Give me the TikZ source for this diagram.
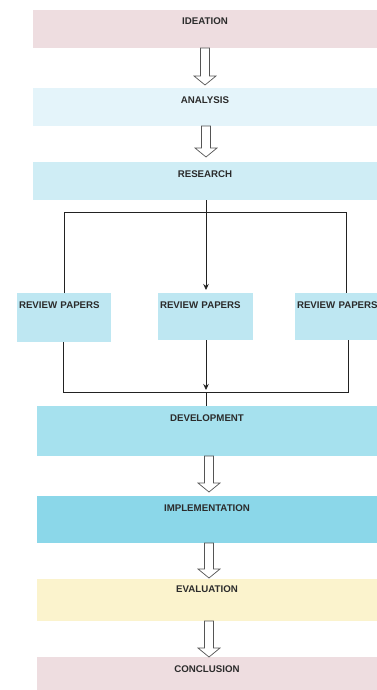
\documentclass[tikz,border=0pt]{standalone}
\usepackage{fontspec}
\setmainfont{Liberation Sans}
\usetikzlibrary{calc,arrows.meta}
\definecolor{cpink}{HTML}{EEDDE0}
\definecolor{canal}{HTML}{E4F4FA}
\definecolor{cres}{HTML}{CFEDF5}
\definecolor{crev}{HTML}{BEE7F2}
\definecolor{cdev}{HTML}{A6E1EE}
\definecolor{cimp}{HTML}{8BD7E9}
\definecolor{ceval}{HTML}{FBF3CD}
\definecolor{txt}{HTML}{2B2B2B}
\definecolor{arrowc}{HTML}{555555}
\definecolor{linec}{HTML}{222222}
\begin{document}
\begin{tikzpicture}[x=1pt,y=-1pt,
  box/.style={rectangle, draw=none, inner sep=0pt, outer sep=0pt, anchor=north west,
    text height=15pt, text=txt, font=\bfseries\fontsize{9.7}{11}\selectfont},
  revbox/.style={box, fill=crev, align=left, inner xsep=2pt},
  blockarrow/.style={draw=arrowc, fill=white, line width=0.7pt, line join=miter,
    to path={let \p1=(\tikztostart), \p2=(\tikztotarget) in
      (\x1-4.5pt,\y1) -- (\x1+4.5pt,\y1) -- (\x1+4.5pt,\y2+9pt) -- (\x1+11pt,\y2+9pt)
      -- (\x1,\y2) -- (\x1-11pt,\y2+9pt) -- (\x1-4.5pt,\y2+9pt) -- cycle}},
  conn/.style={draw=linec, line width=0.8pt},
  arr/.style={conn, -{Stealth[length=6pt,width=5.5pt]}}]
\useasboundingbox (0,0) rectangle (377,690);
\clip (0,0) rectangle (377,690);
\fill[white] (0,0) rectangle (377,690);

\node[box, fill=cpink, minimum width=344pt, text depth=23pt] (ideation) at (33,10) {IDEATION};
\node[box, fill=canal, minimum width=344pt, text depth=23pt] (analysis) at (33,88) {ANALYSIS};
\node[box, fill=cres, minimum width=344pt, text depth=23pt] (research) at (33,162) {RESEARCH};

\node[revbox, text width=90pt, text depth=34pt] (rev1) at (17,293) {REVIEW PAPERS};
\node[revbox, text width=91pt, text depth=32pt] (rev2) at (158,293) {REVIEW PAPERS};
\node[revbox, text width=98pt, text depth=32pt] (rev3) at (295,293) {REVIEW PAPERS};

\node[box, fill=cdev, minimum width=340pt, text depth=35pt] (development) at (37,406) {DEVELOPMENT};
\node[box, fill=cimp, minimum width=340pt, text depth=32pt] (implementation) at (37,496) {IMPLEMENTATION};
\node[box, fill=ceval, minimum width=340pt, text height=13.5pt, text depth=28.5pt] (evaluation) at (37,579) {EVALUATION};
\node[box, fill=cpink, minimum width=340pt, text depth=18pt] (conclusion) at (37,657) {CONCLUSION};

% block arrows
\draw[blockarrow] (ideation.south) to ([yshift=3pt]analysis.north);
\draw[blockarrow] ([xshift=1pt]analysis.south) to ([xshift=1pt,yshift=5pt]research.north);
\draw[blockarrow] ([xshift=2pt]development.south) to ([xshift=2pt,yshift=4pt]implementation.north);
\draw[blockarrow] ([xshift=2pt]implementation.south) to ([xshift=2pt,yshift=1pt]evaluation.north);
\draw[blockarrow] ([xshift=2pt]evaluation.south) to ([xshift=2pt]conclusion.north);

% split from research
\coordinate (split) at ([xshift=1pt]research.south |- 0,212);
\draw[arr, shorten >=3pt] ([xshift=1pt]research.south) -- ([xshift=1pt]research.south |- rev2.north);
\draw[conn] (rev1.north) -- (rev1.north |- split) -- (rev3.north |- split) -- (rev3.north);

% merge to development
\coordinate (merge) at ([xshift=1pt]research.south |- 0,392);
\draw[arr] (merge |- rev2.south) -- ([yshift=2pt]merge);
\draw[conn] (merge) -- (merge |- development.north);
\draw[conn] ([xshift=-1pt]rev1.south) |- (merge);
\draw[conn] ([xshift=2pt]rev3.south) |- (merge);
\end{tikzpicture}
\end{document}
